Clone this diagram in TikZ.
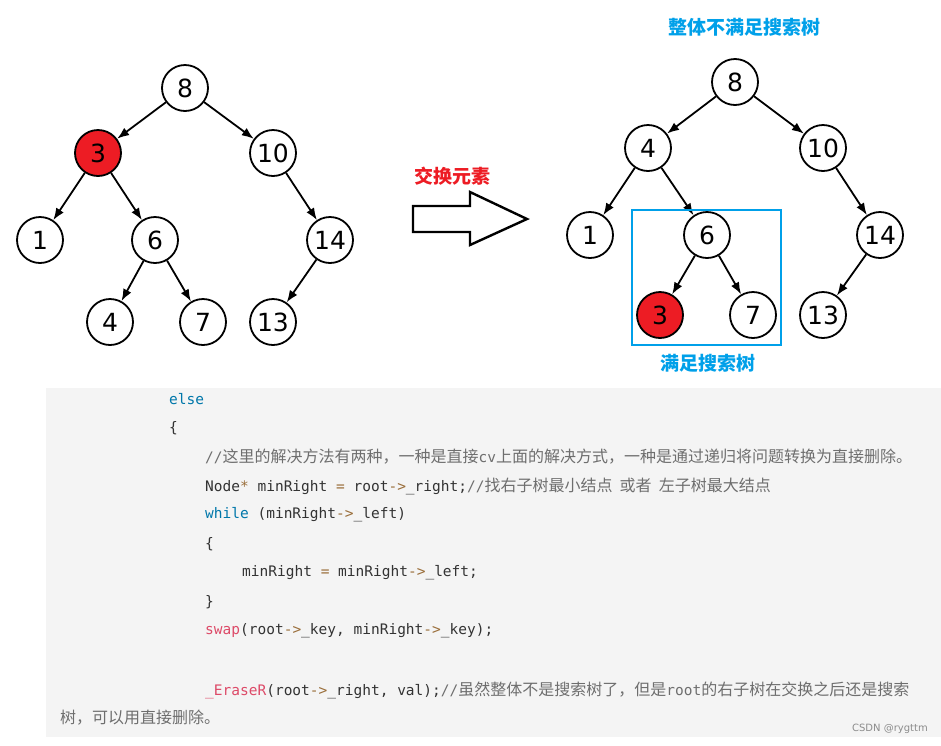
\documentclass[tikz,border=0pt]{standalone}
\usepackage{fontspec}
\setmainfont{DejaVu Sans}
\setmonofont{DejaVu Sans Mono}
\newfontfamily\cjk{Noto Sans CJK SC}
\usetikzlibrary{arrows.meta}
\definecolor{csdnblue}{RGB}{0,160,233}
\definecolor{kwblue}{RGB}{0,119,170}
\definecolor{fnred}{RGB}{221,74,104}
\definecolor{opbrown}{RGB}{154,110,58}
\definecolor{codegray}{RGB}{244,244,244}
\definecolor{cmtgray}{RGB}{110,110,110}
\definecolor{nodered}{RGB}{237,28,36}
\newcommand{\op}[1]{\textcolor{opbrown}{#1}}
\newcommand{\cm}[1]{\textcolor{cmtgray}{#1}}
\newcommand{\zh}[1]{{\cjk\fontsize{16}{16}\selectfont #1}}
\tikzset{
  tnode/.style={circle, draw, line width=1.8pt, minimum size=46pt, inner sep=0pt, font=\fontsize{25}{25}\selectfont},
  hot/.style={tnode, fill=nodered},
  edge/.style={-{Latex[length=12pt,width=9pt]}, line width=1.8pt},
  codeline/.style={anchor=west, inner sep=0pt, font=\ttfamily\fontsize{14.5}{14.5}\selectfont, text=black!80},
  title/.style={font=\cjk\bfseries\fontsize{19}{19}\selectfont, text=csdnblue}
}
\begin{document}
\begin{tikzpicture}[x=1pt,y=-1pt]
  \useasboundingbox (0,0) rectangle (941,745);

  % left tree
  \node[tnode] (l8) at (185,88) {8};
  \node[hot] (l3) at (98,153) {3};
  \node[tnode] (l10) at (273,153) {10};
  \node[tnode] (l1) at (40,240) {1};
  \node[tnode] (l6) at (155,240) {6};
  \node[tnode] (l14) at (330,240) {14};
  \node[tnode] (l4) at (110,322) {4};
  \node[tnode] (l7) at (203,322) {7};
  \node[tnode] (l13) at (273,322) {13};
  \foreach \a/\b in {l8/l3,l8/l10,l3/l1,l3/l6,l10/l14,l6/l4,l6/l7,l14/l13}
    \draw[edge] (\a) -- (\b);

  % swap arrow
  \node[font=\cjk\bfseries\fontsize{19}{19}\selectfont, text=nodered] (swaplbl) at (452,176) {交换元素};
  \draw[line width=2.4pt, line join=miter] (413,206) -- (470,206) -- (470,192) -- (527,219)
    -- (470,245) -- (470,232) -- (413,232) -- cycle;

  % right tree
  \node[title] (bad) at (744,27) {整体不满足搜索树};
  \node[tnode] (r8) at (735,82) {8};
  \node[tnode] (r4) at (648,148) {4};
  \node[tnode] (r10) at (823,148) {10};
  \node[tnode] (r1) at (590,235) {1};
  \node[tnode] (r6) at (707,235) {6};
  \node[tnode] (r14) at (880,235) {14};
  \node[hot] (r3) at (660,315) {3};
  \node[tnode] (r7) at (753,315) {7};
  \node[tnode] (r13) at (823,315) {13};
  \foreach \a/\b in {r8/r4,r8/r10,r4/r1,r4/r6,r10/r14,r6/r3,r6/r7,r14/r13}
    \draw[edge] (\a) -- (\b);
  \draw[csdnblue, line width=2pt] (632,210) rectangle (781,345);
  \node[title] (good) at (708,363) {满足搜索树};

  % code panel
  \fill[codegray] (46,388) rectangle (941,737);
  \node[codeline, text=kwblue] (c1) at (169,399) {else};
  \node[codeline] (c2) at (169,428) {\{};
  \node[codeline] (c3) at (205,457) {\cm{//\zh{这里的解决方法有两种，一种是直接}cv\zh{上面的解决方式，一种是通过递归将问题转换为直接删除。}}};
  \node[codeline] (c4) at (205,486) {Node\op{*} minRight \op{=} root\op{->}\_right;\cm{//\zh{找右子树最小结点~~或者~~左子树最大结点}}};
  \node[codeline] (c5) at (205,515) {\textcolor{kwblue}{while} (minRight\op{->}\_left)};
  \node[codeline] (c6) at (205,544) {\{};
  \node[codeline] (c7) at (242,573) {minRight \op{=} minRight\op{->}\_left;};
  \node[codeline] (c8) at (205,602) {\}};
  \node[codeline] (c9) at (205,631) {\textcolor{fnred}{swap}(root\op{->}\_key, minRight\op{->}\_key);};
  \node[codeline] (c10) at (205,690) {\textcolor{fnred}{\_EraseR}(root\op{->}\_right, val);\cm{//\zh{虽然整体不是搜索树了，但是}root\zh{的右子树在交换之后还是搜索}}};
  \node[codeline] (c11) at (60,718) {\cm{\zh{树，可以用直接删除。}}};
  \node[anchor=east, inner sep=0pt, font=\fontsize{10}{10}\selectfont, text=black!45] (mark) at (928,729) {CSDN @rygttm};
\end{tikzpicture}
\end{document}
